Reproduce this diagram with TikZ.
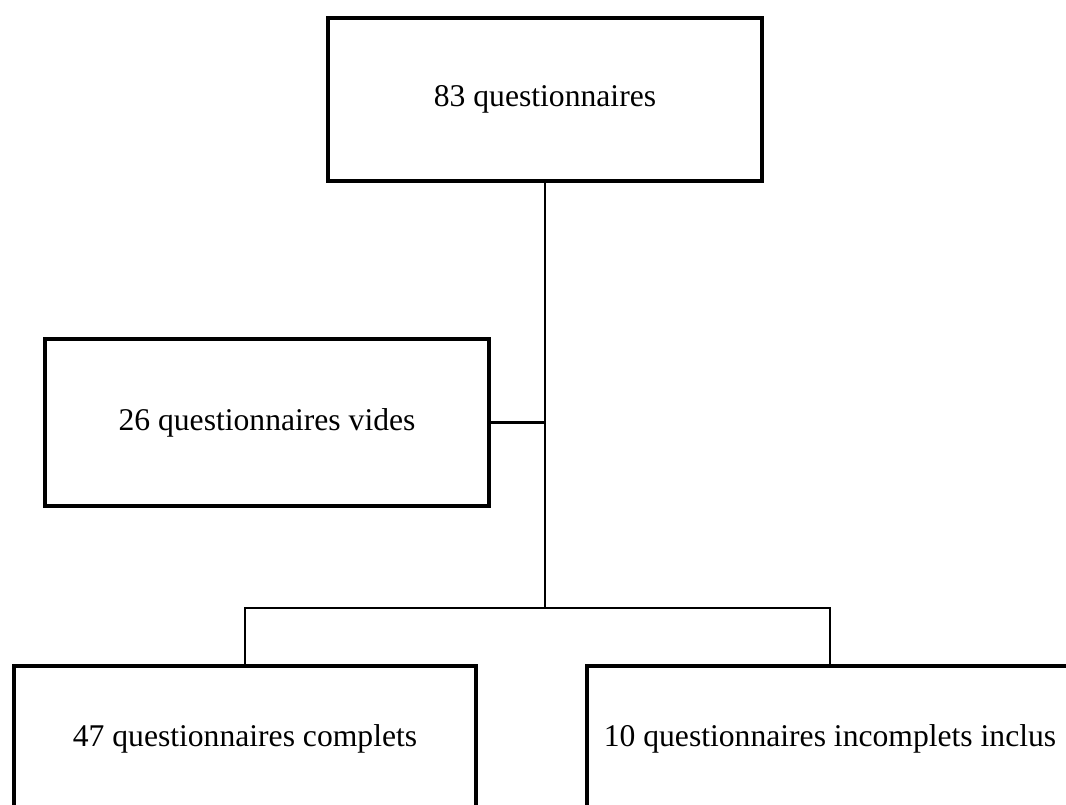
\documentclass[tikz,border=0pt]{standalone}
\usepackage{fontspec}
\setmainfont{Liberation Serif}
\usepackage{tikz}

\begin{document}
\begin{tikzpicture}[x=0.02cm, y=-0.02cm, line width=1.4pt,
                box/.style={draw, line width=2pt, inner sep=0pt, font=\fontsize{18}{22}\selectfont}]
                \useasboundingbox (0, 0) rectangle (1066, 805);
                \clip (0, 0) rectangle (1066, 805);
                \node[box, minimum width=8.68cm, minimum height=3.26cm] (total) at (545, 99.5) {83 questionnaires};
                \node[box, minimum width=8.88cm, minimum height=3.34cm] (vides) at (267, 422.5) {26 questionnaires vides};
                \node[box, minimum width=9.24cm, minimum height=2.92cm] (complets) at (245, 739) {47 questionnaires complets};
                \node[box, minimum width=9.72cm, minimum height=2.92cm] (incomplets) at (830, 739) {10 questionnaires incomplets inclus};
                \coordinate (bus) at (545, 608);
                \draw (total.south) -- (bus);
                \draw (vides.east) -- (vides.east -| total.south);
                \draw (complets.north) |- (bus) -| (incomplets.north);
        \end{tikzpicture}
\end{document}
